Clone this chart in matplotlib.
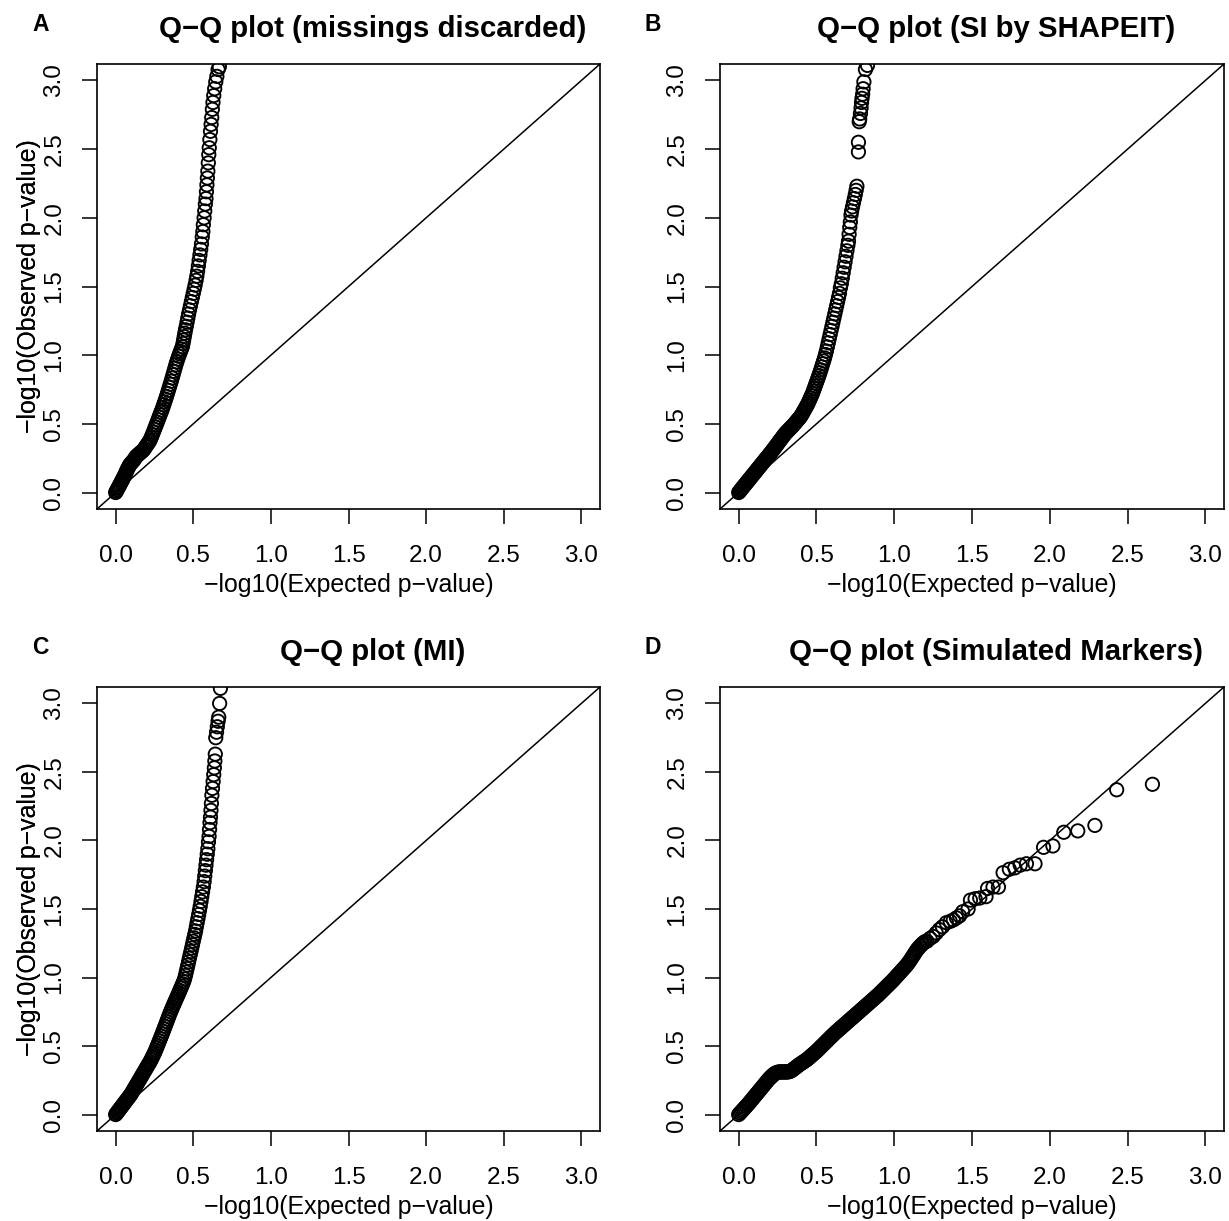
import matplotlib
matplotlib.use("Agg")
import matplotlib.pyplot as plt

plt.rcParams["font.family"] = ["Liberation Sans", "DejaVu Sans"]

# (expected, observed) -log10 p pairs
qq_missings = [
    (0.000, 0.000), (0.005, 0.010), (0.010, 0.021), (0.015, 0.031), (0.020, 0.042),
    (0.025, 0.052), (0.030, 0.063), (0.035, 0.074), (0.040, 0.085), (0.045, 0.095),
    (0.050, 0.106), (0.055, 0.118), (0.060, 0.130), (0.065, 0.142), (0.070, 0.155),
    (0.075, 0.167), (0.080, 0.178), (0.085, 0.189), (0.090, 0.200), (0.097, 0.210),
    (0.104, 0.219), (0.111, 0.228), (0.118, 0.237), (0.125, 0.250), (0.132, 0.262),
    (0.140, 0.270), (0.148, 0.278), (0.156, 0.286), (0.164, 0.294), (0.172, 0.302),
    (0.180, 0.310), (0.187, 0.322), (0.194, 0.334), (0.201, 0.346), (0.208, 0.357),
    (0.215, 0.368), (0.222, 0.382), (0.229, 0.400), (0.236, 0.420), (0.243, 0.440),
    (0.250, 0.460), (0.256, 0.477), (0.262, 0.495), (0.268, 0.512), (0.274, 0.530),
    (0.280, 0.548), (0.286, 0.566), (0.292, 0.584), (0.298, 0.600), (0.304, 0.620),
    (0.310, 0.640), (0.316, 0.660), (0.322, 0.680), (0.328, 0.700), (0.334, 0.722),
    (0.340, 0.744), (0.346, 0.766), (0.352, 0.788), (0.358, 0.810), (0.364, 0.834),
    (0.370, 0.858), (0.376, 0.882), (0.382, 0.906), (0.388, 0.930), (0.394, 0.952),
    (0.400, 0.972), (0.406, 0.992), (0.412, 1.010), (0.418, 1.028), (0.424, 1.045),
    (0.430, 1.062), (0.434, 1.085), (0.438, 1.110), (0.442, 1.135), (0.446, 1.160),
    (0.450, 1.185), (0.455, 1.210), (0.460, 1.240), (0.465, 1.270), (0.470, 1.300),
    (0.476, 1.330), (0.482, 1.360), (0.488, 1.390), (0.494, 1.420), (0.500, 1.450),
    (0.506, 1.480), (0.512, 1.510), (0.518, 1.545), (0.523, 1.575), (0.528, 1.610),
    (0.533, 1.650), (0.538, 1.690), (0.543, 1.730), (0.548, 1.770), (0.553, 1.810),
    (0.558, 1.860), (0.562, 1.900), (0.565, 1.950), (0.570, 2.000), (0.574, 2.050),
    (0.578, 2.100), (0.582, 2.140), (0.585, 2.190), (0.588, 2.240), (0.591, 2.290),
    (0.594, 2.340), (0.597, 2.400), (0.600, 2.460), (0.603, 2.510), (0.607, 2.570),
    (0.611, 2.630), (0.615, 2.680), (0.619, 2.730), (0.623, 2.790), (0.627, 2.840),
    (0.632, 2.890), (0.638, 2.940), (0.645, 2.990), (0.652, 3.030), (0.660, 3.080),
    (0.668, 3.100),
]

qq_shapeit = [
    (0.000, 0.000), (0.006, 0.008), (0.012, 0.017), (0.018, 0.025), (0.024, 0.034),
    (0.030, 0.042), (0.036, 0.050), (0.042, 0.059), (0.048, 0.067), (0.054, 0.076),
    (0.060, 0.084), (0.066, 0.092), (0.072, 0.101), (0.078, 0.109), (0.084, 0.118),
    (0.090, 0.126), (0.096, 0.134), (0.102, 0.143), (0.108, 0.151), (0.114, 0.160),
    (0.120, 0.168), (0.126, 0.176), (0.132, 0.185), (0.138, 0.193), (0.144, 0.202),
    (0.150, 0.210), (0.156, 0.218), (0.162, 0.227), (0.168, 0.235), (0.174, 0.244),
    (0.180, 0.252), (0.186, 0.260), (0.192, 0.269), (0.198, 0.277), (0.204, 0.286),
    (0.210, 0.294), (0.216, 0.303), (0.222, 0.312), (0.228, 0.321), (0.234, 0.330),
    (0.240, 0.339), (0.246, 0.348), (0.252, 0.358), (0.258, 0.367), (0.264, 0.376),
    (0.270, 0.385), (0.276, 0.394), (0.282, 0.403), (0.288, 0.412), (0.294, 0.421),
    (0.300, 0.430), (0.306, 0.437), (0.312, 0.444), (0.318, 0.451), (0.324, 0.458),
    (0.330, 0.465), (0.336, 0.472), (0.342, 0.479), (0.348, 0.486), (0.354, 0.494),
    (0.360, 0.502), (0.366, 0.510), (0.372, 0.518), (0.378, 0.526), (0.384, 0.534),
    (0.390, 0.542), (0.396, 0.550), (0.402, 0.560), (0.408, 0.572), (0.414, 0.584),
    (0.420, 0.596), (0.426, 0.608), (0.432, 0.620), (0.438, 0.632), (0.444, 0.645),
    (0.450, 0.660), (0.456, 0.675), (0.462, 0.690), (0.468, 0.705), (0.474, 0.720),
    (0.480, 0.738), (0.486, 0.757), (0.492, 0.776), (0.498, 0.795), (0.504, 0.814),
    (0.510, 0.833), (0.516, 0.852), (0.522, 0.872), (0.528, 0.893), (0.534, 0.915),
    (0.540, 0.937), (0.546, 0.958), (0.552, 0.980), (0.558, 1.005), (0.564, 1.030),
    (0.570, 1.060), (0.576, 1.090), (0.582, 1.120), (0.588, 1.150), (0.594, 1.180),
    (0.600, 1.210), (0.606, 1.240), (0.612, 1.270), (0.618, 1.300), (0.624, 1.330),
    (0.630, 1.360), (0.636, 1.390), (0.642, 1.420), (0.648, 1.450), (0.654, 1.490),
    (0.660, 1.520), (0.666, 1.560), (0.672, 1.600), (0.678, 1.640), (0.684, 1.680),
    (0.690, 1.720), (0.696, 1.760), (0.702, 1.800), (0.706, 1.830), (0.710, 1.880),
    (0.714, 1.930), (0.718, 1.970), (0.722, 2.020), (0.726, 2.050), (0.732, 2.080),
    (0.738, 2.110), (0.744, 2.140), (0.750, 2.170), (0.755, 2.200), (0.760, 2.230),
    (0.770, 2.480), (0.770, 2.550), (0.775, 2.700), (0.778, 2.720), (0.783, 2.760),
    (0.787, 2.800), (0.790, 2.840), (0.793, 2.870), (0.797, 2.900), (0.800, 2.940),
    (0.805, 2.990), (0.815, 3.080), (0.828, 3.110),
]

qq_mi = [
    (0.000, 0.000), (0.006, 0.009), (0.012, 0.018), (0.018, 0.027), (0.024, 0.036),
    (0.030, 0.045), (0.036, 0.054), (0.042, 0.063), (0.048, 0.072), (0.054, 0.081),
    (0.060, 0.090), (0.066, 0.099), (0.072, 0.108), (0.078, 0.117), (0.084, 0.126),
    (0.090, 0.135), (0.096, 0.144), (0.102, 0.154), (0.108, 0.166), (0.114, 0.178),
    (0.120, 0.189), (0.126, 0.201), (0.132, 0.212), (0.138, 0.224), (0.144, 0.236),
    (0.150, 0.247), (0.156, 0.259), (0.162, 0.270), (0.168, 0.282), (0.174, 0.294),
    (0.180, 0.305), (0.186, 0.317), (0.192, 0.328), (0.198, 0.340), (0.204, 0.351),
    (0.210, 0.363), (0.216, 0.374), (0.222, 0.386), (0.228, 0.399), (0.234, 0.413),
    (0.240, 0.427), (0.246, 0.441), (0.252, 0.455), (0.258, 0.471), (0.264, 0.488),
    (0.270, 0.504), (0.276, 0.521), (0.282, 0.538), (0.288, 0.555), (0.294, 0.572),
    (0.300, 0.589), (0.306, 0.607), (0.312, 0.625), (0.318, 0.643), (0.324, 0.661),
    (0.330, 0.679), (0.336, 0.697), (0.342, 0.715), (0.348, 0.733), (0.354, 0.750),
    (0.360, 0.766), (0.366, 0.782), (0.372, 0.797), (0.378, 0.813), (0.384, 0.828),
    (0.390, 0.844), (0.396, 0.859), (0.402, 0.874), (0.408, 0.890), (0.414, 0.906),
    (0.420, 0.922), (0.426, 0.938), (0.432, 0.954), (0.438, 0.970), (0.444, 0.990),
    (0.450, 1.015), (0.455, 1.040), (0.460, 1.065), (0.465, 1.090), (0.470, 1.115),
    (0.475, 1.140), (0.480, 1.165), (0.485, 1.190), (0.490, 1.215), (0.495, 1.240),
    (0.500, 1.265), (0.505, 1.290), (0.510, 1.315), (0.515, 1.340), (0.520, 1.370),
    (0.525, 1.400), (0.530, 1.430), (0.535, 1.460), (0.540, 1.490), (0.545, 1.520),
    (0.550, 1.555), (0.555, 1.590), (0.560, 1.625), (0.565, 1.660), (0.570, 1.700),
    (0.574, 1.740), (0.578, 1.780), (0.582, 1.820), (0.586, 1.860), (0.590, 1.900),
    (0.594, 1.940), (0.598, 1.990), (0.602, 2.030), (0.605, 2.080), (0.608, 2.130),
    (0.611, 2.170), (0.614, 2.220), (0.617, 2.270), (0.620, 2.330), (0.624, 2.380),
    (0.628, 2.430), (0.632, 2.480), (0.636, 2.530), (0.639, 2.580), (0.642, 2.630),
    (0.645, 2.750), (0.650, 2.790), (0.655, 2.830), (0.660, 2.870), (0.664, 2.900),
    (0.670, 3.000), (0.675, 3.110),
]

qq_simulated = [
    (0.000, 0.000), (0.008, 0.010), (0.016, 0.020), (0.024, 0.030), (0.032, 0.040),
    (0.040, 0.050), (0.048, 0.060), (0.056, 0.070), (0.064, 0.080), (0.072, 0.091),
    (0.080, 0.102), (0.088, 0.113), (0.096, 0.124), (0.104, 0.135), (0.112, 0.146),
    (0.120, 0.157), (0.128, 0.168), (0.136, 0.179), (0.144, 0.190), (0.152, 0.201),
    (0.160, 0.212), (0.168, 0.223), (0.176, 0.234), (0.184, 0.245), (0.192, 0.256),
    (0.200, 0.266), (0.208, 0.275), (0.216, 0.284), (0.224, 0.292), (0.232, 0.299),
    (0.240, 0.304), (0.248, 0.308), (0.256, 0.310), (0.264, 0.311), (0.272, 0.311),
    (0.280, 0.311), (0.288, 0.311), (0.296, 0.311), (0.304, 0.311), (0.312, 0.311),
    (0.320, 0.312), (0.328, 0.314), (0.336, 0.318), (0.344, 0.324), (0.352, 0.331),
    (0.360, 0.338), (0.368, 0.345), (0.376, 0.352), (0.384, 0.359), (0.392, 0.366),
    (0.400, 0.372), (0.408, 0.378), (0.416, 0.384), (0.424, 0.390), (0.432, 0.396),
    (0.440, 0.403), (0.448, 0.410), (0.456, 0.418), (0.464, 0.426), (0.472, 0.434),
    (0.480, 0.442), (0.488, 0.450), (0.496, 0.458), (0.504, 0.466), (0.512, 0.475),
    (0.520, 0.484), (0.528, 0.493), (0.536, 0.502), (0.544, 0.511), (0.552, 0.520),
    (0.560, 0.529), (0.568, 0.538), (0.576, 0.547), (0.584, 0.556), (0.592, 0.565),
    (0.600, 0.574), (0.608, 0.583), (0.616, 0.592), (0.624, 0.600), (0.632, 0.608),
    (0.640, 0.616), (0.648, 0.624), (0.656, 0.632), (0.664, 0.640), (0.672, 0.648),
    (0.680, 0.656), (0.688, 0.664), (0.696, 0.672), (0.704, 0.680), (0.712, 0.688),
    (0.720, 0.696), (0.728, 0.704), (0.736, 0.712), (0.744, 0.720), (0.752, 0.728),
    (0.760, 0.736), (0.768, 0.744), (0.776, 0.752), (0.784, 0.760), (0.792, 0.768),
    (0.800, 0.776), (0.808, 0.784), (0.816, 0.792), (0.824, 0.800), (0.832, 0.808),
    (0.840, 0.816), (0.848, 0.824), (0.856, 0.832), (0.864, 0.840), (0.872, 0.848),
    (0.880, 0.856), (0.888, 0.864), (0.896, 0.872), (0.904, 0.881), (0.912, 0.890),
    (0.920, 0.899), (0.928, 0.908), (0.936, 0.917), (0.944, 0.926), (0.952, 0.935),
    (0.960, 0.944), (0.968, 0.953), (0.976, 0.962), (0.984, 0.971), (0.992, 0.980),
    (1.000, 0.990), (1.008, 1.000), (1.016, 1.010), (1.024, 1.020), (1.032, 1.030),
    (1.040, 1.040), (1.048, 1.050), (1.056, 1.060), (1.064, 1.070), (1.072, 1.080),
    (1.080, 1.090), (1.088, 1.102), (1.096, 1.115), (1.104, 1.128), (1.112, 1.142),
    (1.120, 1.156), (1.128, 1.170), (1.136, 1.184), (1.144, 1.198), (1.152, 1.210),
    (1.160, 1.220), (1.168, 1.230), (1.176, 1.240), (1.184, 1.248), (1.192, 1.256),
    (1.200, 1.263), (1.210, 1.265), (1.230, 1.285), (1.250, 1.300), (1.270, 1.325),
    (1.290, 1.350), (1.310, 1.370), (1.335, 1.400), (1.360, 1.410), (1.380, 1.420),
    (1.400, 1.435), (1.420, 1.450), (1.440, 1.480), (1.475, 1.500), (1.490, 1.565),
    (1.520, 1.575), (1.550, 1.580), (1.590, 1.590), (1.600, 1.650), (1.635, 1.660),
    (1.670, 1.660), (1.700, 1.765), (1.740, 1.790), (1.775, 1.800), (1.810, 1.820),
    (1.850, 1.830), (1.905, 1.830), (1.960, 1.950), (2.020, 1.960), (2.090, 2.060),
    (2.180, 2.070), (2.290, 2.110), (2.430, 2.370), (2.660, 2.410),
]

panels = [
    ("A", "Q\u2212Q plot (missings discarded)", qq_missings),
    ("B", "Q\u2212Q plot (SI by SHAPEIT)", qq_shapeit),
    ("C", "Q\u2212Q plot (MI)", qq_mi),
    ("D", "Q\u2212Q plot (Simulated Markers)", qq_simulated),
]
tick_values = [0.0, 0.5, 1.0, 1.5, 2.0, 2.5, 3.0]
tick_labels = ["0.0", "0.5", "1.0", "1.5", "2.0", "2.5", "3.0"]
axis_lim = (-0.12, 3.12)
xlabel = "\u2212log10(Expected p\u2212value)"
ylabel = "\u2212log10(Observed p\u2212value)"

W, H = 1229, 1221
fig = plt.figure(figsize=(W / 100, H / 100), dpi=100)

# plot boxes in pixels: left, top, right, bottom
boxes = [(97, 64, 600, 509), (720, 64, 1224, 509),
         (97, 687, 600, 1131), (720, 687, 1224, 1131)]
letter_x = [40.5, 653, 40.5, 653]

for (letter, title, pts), (l, t, r, b), lx in zip(panels, boxes, letter_x):
    ax = fig.add_axes([l / W, 1 - b / H, (r - l) / W, (b - t) / H])
    xs = [p[0] for p in pts]
    ys = [p[1] for p in pts]
    ax.scatter(xs, ys, s=92, facecolors="none", edgecolors="black", linewidths=1.35)
    ax.axline((0, 0), slope=1, color="black", lw=1.1)
    ax.set_xlim(axis_lim)
    ax.set_ylim(axis_lim)
    ax.set_xticks(tick_values)
    ax.set_xticklabels(tick_labels)
    ax.set_yticks(tick_values)
    ax.set_yticklabels(tick_labels, rotation=90, va="center")
    ax.tick_params(direction="out", length=10.8, width=1.1, labelsize=17.5,
                   colors="black")
    ax.tick_params(axis="x", pad=15)
    ax.tick_params(axis="y", pad=12)
    for sp in ax.spines.values():
        sp.set_linewidth(1.2)
    ax.set_xlabel(xlabel, fontsize=17.9)
    ax.xaxis.set_label_coords(0.5, -64 / (b - t))
    ax.set_ylabel(ylabel, fontsize=17.9)
    ax.yaxis.set_label_coords(-(l - 41) / (r - l), 0.5)
    ax.text(0.5 + 24 / (r - l), 1 + 27.3 / (b - t), title, transform=ax.transAxes,
            ha="center", va="baseline", fontsize=21.2, fontweight="bold")
    fig.text(lx / W, 1 - (t - 33.3) / H, letter, ha="center", va="baseline",
             fontsize=16.5, fontweight="bold")

fig.savefig("out.png", dpi=100)
